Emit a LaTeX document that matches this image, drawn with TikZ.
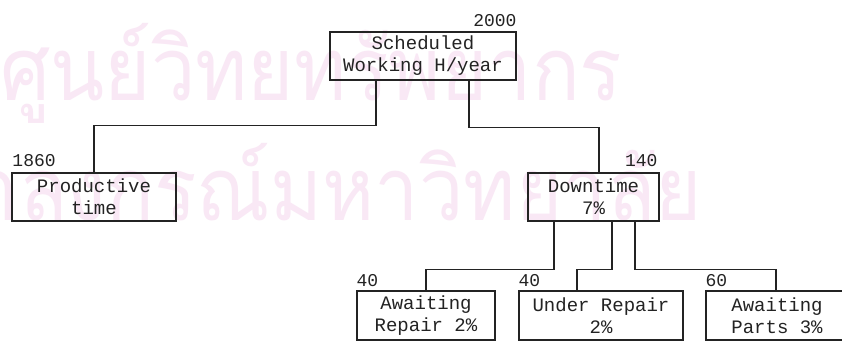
\documentclass[tikz,border=0pt]{standalone}
\usepackage{fontspec}
\setmonofont{Liberation Mono}
\newfontfamily\thaifont[Script=Thai]{Loma}
\usetikzlibrary{calc}
\definecolor{wm}{RGB}{249,232,245}
\definecolor{ink}{RGB}{35,35,35}
\begin{document}
\begin{tikzpicture}[x=1pt,y=-1pt,
  box/.style={draw=ink,line width=1.4pt,rectangle,inner sep=0pt,minimum height=48pt,
    align=center,font=\ttfamily\fontsize{19}{22}\selectfont,text=ink},
  num/.style={inner sep=0pt,font=\ttfamily\fontsize{18}{20}\selectfont,text=ink},
  conn/.style={draw=ink,line width=1.3pt},
  wmark/.style={inner sep=0pt,font=\thaifont\fontsize{88}{90}\selectfont,text=wm,
    xscale=0.9,transform shape}]
\useasboundingbox (0,0) rectangle (842,342);
\fill[white] (0,0) rectangle (842,342);
\clip (0,0) rectangle (842,342);
% watermark
\node[wmark,anchor=base west] (w1) at (0,100) {ศูนย์วิทยทรัพยากร};
\node[wmark,anchor=base east] (w2) at (702,220) {จุฬาลงกรณ์มหาวิทยาลัย};
% boxes
\node[box,minimum width=186pt] (top) at (423,56) {Scheduled\\Working H/year};
\node[box,minimum width=164pt] (prod) at (94,197) {Productive\\time};
\node[box,minimum width=131pt] (down) at (593.5,197) {Downtime\\7\%};
\node[box,minimum width=138pt,minimum height=49pt] (ar) at (426,315.5) {Awaiting\\Repair 2\%};
\node[box,minimum width=164pt,minimum height=49pt] (ur) at (601,315.5) {Under Repair\\2\%};
\node[box,minimum width=142pt,minimum height=49pt] (ap) at (777,315.5) {Awaiting\\Parts 3\%};
% numbers
\node[num,anchor=south east] (n2000) at ([yshift=4pt]top.north east) {2000};
\node[num,anchor=south west] (n1860) at ([xshift=1pt,yshift=5pt]prod.north west) {1860};
\node[num,anchor=south east] (n140) at ([xshift=-2pt,yshift=5pt]down.north east) {140};
\node[num,anchor=south west] (n40a) at ([yshift=3pt]ar.north west) {40};
\node[num,anchor=south west] (n40b) at ([yshift=3pt]ur.north west) {40};
\node[num,anchor=south west] (n60) at ([yshift=3pt]ap.north west) {60};
% connectors
\coordinate (ta) at ([xshift=-47pt]top.south);
\coordinate (tb) at ([xshift=46pt]top.south);
\coordinate (dt) at ([xshift=5.5pt]down.north);
\draw[conn] (ta) -- ($(ta)+(0,45)$) -| (prod.north);
\draw[conn] (tb) -- ($(tb)+(0,47)$) -| (dt);
\coordinate (da) at ([xshift=-39.5pt]down.south);
\coordinate (db) at ([xshift=18.5pt]down.south);
\coordinate (dc) at ([xshift=41.5pt]down.south);
\coordinate (urt) at ([xshift=-24pt]ur.north);
\coordinate (apt) at ([xshift=-1pt]ap.north);
\draw[conn] (da) -- ($(da)+(0,48)$) -| (ar.north);
\draw[conn] (db) -- ($(db)+(0,48)$) -| (urt);
\draw[conn] (dc) -- ($(dc)+(0,48)$) -| (apt);
\end{tikzpicture}
\end{document}
